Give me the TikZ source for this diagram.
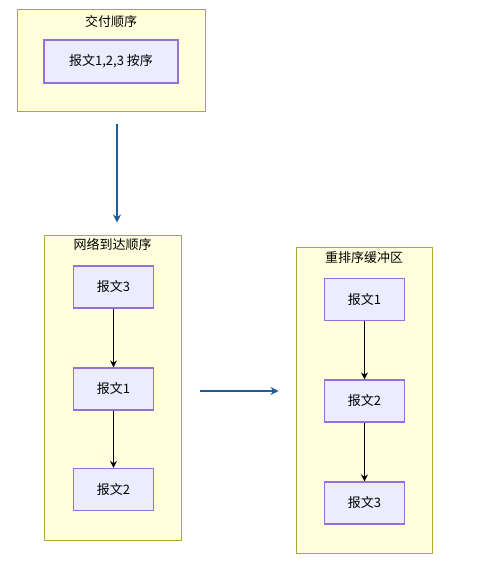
\documentclass[tikz,border=0pt]{standalone}
\usepackage{fontspec}
\setmainfont{Noto Sans CJK SC}
\usetikzlibrary{arrows.meta}

\definecolor{clusterfill}{HTML}{FFFFDE}
\definecolor{clusterline}{HTML}{AAAA33}
\definecolor{msgfill}{HTML}{ECECFF}
\definecolor{msgline}{HTML}{9370DB}
\definecolor{flowblue}{HTML}{1F5C99}

\begin{document}
\begin{tikzpicture}[x=1pt,y=-1pt]
\tikzset{
  cluster/.style={draw=clusterline,fill=clusterfill,line width=1pt,inner sep=0pt},
  clustertitle/.style={font=\fontsize{13}{15}\selectfont,inner sep=0pt},
  msg/.style={draw=msgline,fill=msgfill,line width=1.2pt,minimum width=80pt,minimum height=42pt,inner sep=0pt,font=\fontsize{13}{15}\selectfont},
  link/.style={-{Stealth[length=7pt,width=7pt]},line width=1pt,black},
  flow/.style={-{Stealth[length=8pt,width=8pt]},line width=1.2pt,flowblue}
}
\useasboundingbox (0,0) rectangle (488,561);
% clusters
\node[cluster,minimum width=188pt,minimum height=102pt] (c_order) at (111,61) {};
\node[cluster,minimum width=137pt,minimum height=305pt] (c_net) at (112.5,387.5) {};
\node[cluster,minimum width=136pt,minimum height=306pt] (c_buf) at (364,400) {};
\node[clustertitle] (t_order) at (111,22) {交付顺序};
\node[clustertitle] (t_net) at (112.5,245) {网络到达顺序};
\node[clustertitle] (t_buf) at (364,258) {重排序缓冲区};
% messages
\node[msg,minimum width=134pt,minimum height=43pt] (m_all) at (111,61.5) {报文1,2,3 按序};
\node[msg] (n_m3) at (113.5,287) {报文3};
\node[msg] (n_m1) at (113.5,389) {报文1};
\node[msg] (n_m2) at (113.5,489.5) {报文2};
\node[msg] (b_m1) at (364.5,299.5) {报文1};
\node[msg] (b_m2) at (364.5,401) {报文2};
\node[msg] (b_m3) at (364.5,503) {报文3};
% edges
\draw[link] (n_m3) -- (n_m1);
\draw[link] (n_m1) -- (n_m2);
\draw[link] (b_m1) -- (b_m2);
\draw[link] (b_m2) -- (b_m3);
\draw[flow,shorten <=12pt,shorten >=12pt] ([xshift=6pt]c_order.south) -- ([xshift=6pt]c_order.south |- c_net.north);
\draw[flow,shorten <=18pt,shorten >=17pt] ([yshift=-3.5pt]c_net.east) -- ([yshift=-3.5pt]c_net.east -| c_buf.west);
\end{tikzpicture}
\end{document}
